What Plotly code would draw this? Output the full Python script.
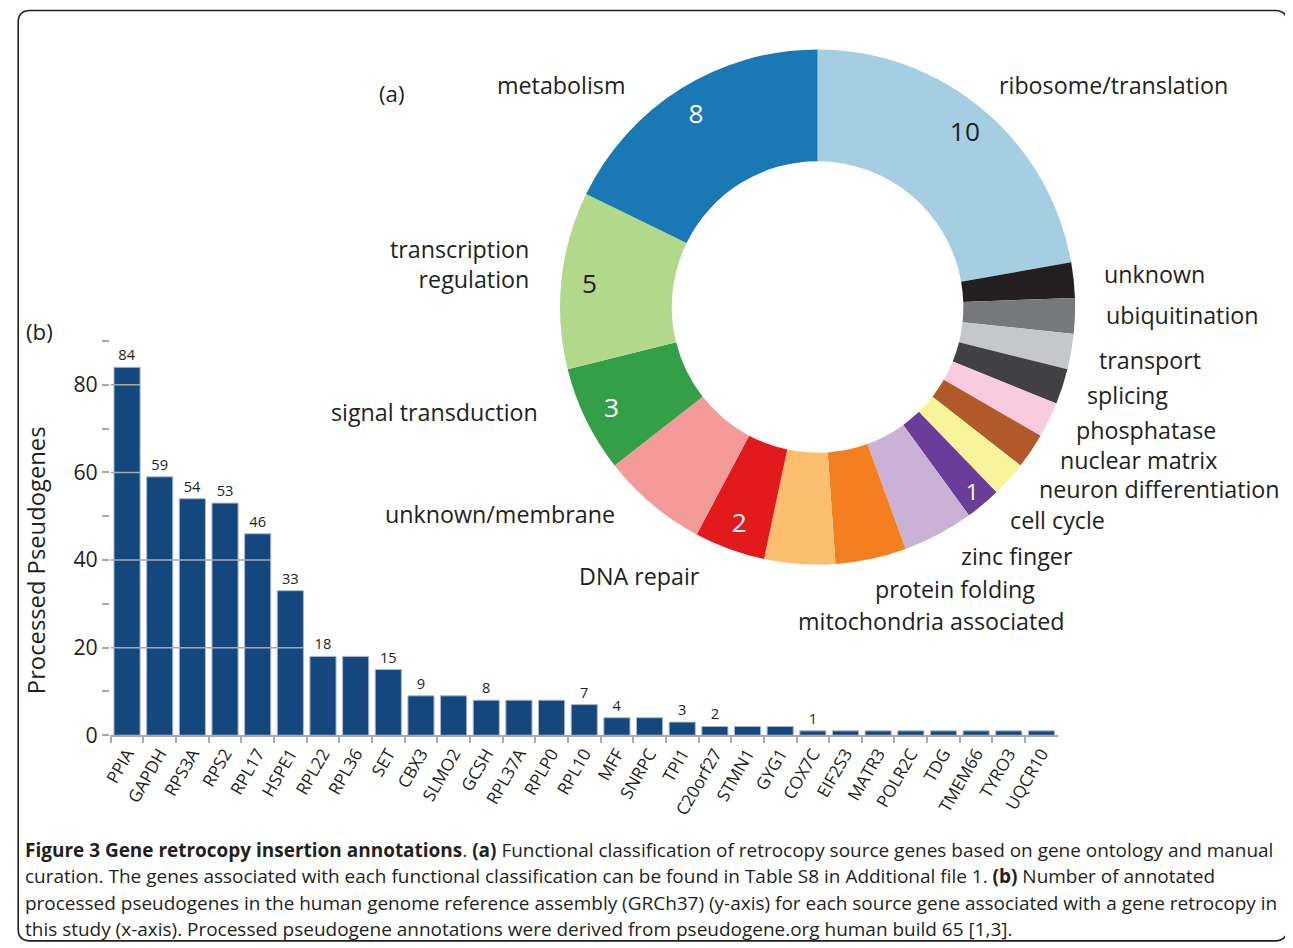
import plotly.graph_objects as go

W, H = 1293, 948
# measured placement of the figure in the photographed page: obs = A + S * fig_px
S = 0.988
AX, AY = 19.5, 7.5

# ---------------- data ----------------
genes = ["PPIA", "GAPDH", "RPS3A", "RPS2", "RPL17", "HSPE1", "RPL22", "RPL36", "SET",
         "CBX3", "SLMO2", "GCSH", "RPL37A", "RPLP0", "RPL10", "MFF", "SNRPC", "TPI1",
         "C20orf27", "STMN1", "GYG1", "COX7C", "EIF2S3", "MATR3", "POLR2C", "TDG",
         "TMEM66", "TYRO3", "UQCR10"]
pseudogenes = [84, 59, 54, 53, 46, 33, 18, 18, 15, 9, 9, 8, 8, 8, 7, 4, 4, 3, 2, 2, 2,
               1, 1, 1, 1, 1, 1, 1, 1]
y_ticks = [0, 20, 40, 60, 80]

categories = ["ribosome/translation", "unknown", "ubiquitination", "transport", "splicing",
              "phosphatase", "nuclear matrix", "neuron differentiation", "cell cycle",
              "zinc finger", "protein folding", "mitochondria associated", "DNA repair",
              "unknown/membrane", "signal transduction", "transcription regulation", "metabolism"]
gene_counts = [10, 1, 1, 1, 1, 1, 1, 1, 1, 2, 2, 2, 2, 3, 3, 5, 8]
count_labels = ["10", "", "", "", "", "", "", "", "1", "", "", "", "2", "", "3", "5", "8"]

caption_lines = [
    "<b>Figure 3 Gene retrocopy insertion annotations</b>. <b>(a)</b> Functional classification of retrocopy source genes based on gene ontology and manual",
    "curation. The genes associated with each functional classification can be found in Table S8 in Additional file 1. <b>(b)</b> Number of annotated",
    "processed pseudogenes in the human genome reference assembly (GRCh37) (y-axis) for each source gene associated with a gene retrocopy in",
    "this study (x-axis). Processed pseudogene annotations were derived from pseudogene.org human build 65 [1,3].",
]

# ---------------- styles ----------------
slice_colors = ["#a6cee3", "#231f20", "#77787b", "#c6c7c8", "#414042", "#f8cbdf", "#b15928",
                "#f7f49a", "#6a3d9a", "#cab2d6", "#f47f20", "#fdbf6f", "#e31a1c", "#f49a99",
                "#33a047", "#b2d98a", "#1a79b5"]
slice_text_colors = ["#231f20", "white", "white", "white", "white", "white", "white", "white",
                     "white", "white", "white", "white", "white", "white", "white", "#231f20", "white"]
# label placement (target pixel x, pixel y, anchor)
label_pos = {
    "ribosome/translation": (995, 85, "left"),
    "unknown": (1099, 274, "left"),
    "ubiquitination": (1101, 315, "left"),
    "transport": (1094, 360, "left"),
    "splicing": (1082, 395, "left"),
    "phosphatase": (1071, 430, "left"),
    "nuclear matrix": (1055, 460, "left"),
    "neuron differentiation": (1034, 489, "left"),
    "cell cycle": (1005, 520, "left"),
    "zinc finger": (957, 556, "left"),
    "protein folding": (871, 590, "left"),
    "mitochondria associated": (795, 622, "left"),
    "DNA repair": (701, 576, "right"),
    "unknown/membrane": (616, 514, "right"),
    "signal transduction": (540, 412, "right"),
    "transcription regulation": (531, 264, "right"),
    "metabolism": (626, 85, "right"),
}

FONT = "Open Sans, Noto Sans, DejaVu Sans, sans-serif"
TXT = "#231f20"
GRID = "#a7a9ac"
BAR = "#15477f"


def px(x):
    return ((x - AX) / S) / W


def py(y):
    return 1 - ((y - AY) / S) / H


def sz(v):
    return v / S


fig = go.Figure()

# ---------------- donut ----------------
cx, cy, R = 816, 307, 258
pie_domain = dict(x=[px(cx - R), px(cx + R)], y=[py(cy + R), py(cy - R)])
fig.add_trace(go.Pie(
    labels=categories, values=gene_counts, sort=False, direction="clockwise", rotation=0,
    hole=0.566, domain=pie_domain, textinfo="none", hoverinfo="label+value",
    marker=dict(colors=slice_colors, line=dict(width=0)), showlegend=False,
))
fig.add_trace(go.Pie(
    labels=categories, values=gene_counts, sort=False, direction="clockwise", rotation=0,
    hole=0.78, domain=pie_domain, text=count_labels, textinfo="text",
    textposition="inside", insidetextorientation="horizontal",
    textfont=dict(size=sz(26), color=slice_text_colors, family=FONT),
    marker=dict(colors=["rgba(0,0,0,0)"] * len(categories), line=dict(width=0)),
    hoverinfo="skip", showlegend=False,
))

annotations = []
for cat in categories:
    x, y, anchor = label_pos[cat]
    text = cat
    if cat == "transcription regulation":
        text = "transcription<br>regulation"
    annotations.append(dict(
        x=px(x), y=py(y), xref="paper", yref="paper", text=text, showarrow=False,
        xanchor=anchor, yanchor="middle", align=anchor,
        font=dict(size=sz(23), color=TXT, family=FONT),
    ))

# ---------------- bars ----------------
bar_text = [str(v) if i == 0 or v != pseudogenes[i - 1] else "" for i, v in enumerate(pseudogenes)]
BARGAP = 0.2
fig.add_trace(go.Bar(
    x=genes, y=pseudogenes, text=bar_text, textposition="outside", cliponaxis=False,
    textfont=dict(size=sz(14.5), color=TXT, family=FONT),
    marker=dict(color=BAR, line=dict(color="#a9b8cf", width=1)),
    showlegend=False, hoverinfo="x+y",
))

shapes = []
# gridlines drawn over bars, ending at last bar that exceeds the level
for g in y_ticks[1:]:
    idx = max(i for i, v in enumerate(pseudogenes) if v > g)
    shapes.append(dict(type="line", xref="x", yref="y", x0=-0.5, x1=idx + (1 - BARGAP) / 2,
                       y0=g, y1=g, line=dict(color=GRID, width=1.5), layer="above"))

# rounded outer frame
x0, x1 = max(px(10), 1.2 / W), px(1283)
y0, y1 = py(942), py(10)
rx, ry = 12 / W, 12 / H
path = (f"M {x0+rx},{y1} L {x1-rx},{y1} Q {x1},{y1} {x1},{y1-ry} "
        f"L {x1},{y0+ry} Q {x1},{y0} {x1-rx},{y0} L {x0+rx},{y0} "
        f"Q {x0},{y0} {x0},{y0+ry} L {x0},{y1-ry} Q {x0},{y1} {x0+rx},{y1} Z")
shapes.append(dict(type="path", xref="paper", yref="paper", path=path,
                   line=dict(color="#231f20", width=1.6)))

# panel letters and axis title
annotations.append(dict(x=px(393), y=py(93), xref="paper", yref="paper", text="(a)",
                        xanchor="center", yanchor="middle",
                        showarrow=False, font=dict(size=sz(22), color=TXT, family=FONT)))
annotations.append(dict(x=px(42), y=py(332), xref="paper", yref="paper", text="(b)",
                        xanchor="center", yanchor="middle",
                        showarrow=False, font=dict(size=sz(22), color=TXT, family=FONT)))
annotations.append(dict(x=px(38), y=py(561), xref="paper", yref="paper",
                        text="Processed Pseudogenes", textangle=-90, showarrow=False,
                        xanchor="center", yanchor="middle",
                        font=dict(size=sz(23.5), color=TXT, family=FONT)))

# caption
cap_y = [851, 877, 904, 930]
for line, yy in zip(caption_lines, cap_y):
    annotations.append(dict(x=px(25), y=py(yy), xref="paper", yref="paper", text=line,
                            showarrow=False, xanchor="left", yanchor="middle",
                            font=dict(size=sz(18.75), color=TXT, family=FONT)))

y_top_px = 341
y_range_top = 80 * (736 - y_top_px) / (736 - 385)

fig.update_layout(
    width=W, height=H, margin=dict(l=0, r=0, t=0, b=0),
    paper_bgcolor="white", plot_bgcolor="white",
    bargap=BARGAP, showlegend=False,
    font=dict(family=FONT, color=TXT),
    xaxis=dict(domain=[px(112), px(1055)], showline=True, linecolor=GRID, linewidth=1.5,
               ticks="outside", tickson="boundaries", ticklen=6, tickcolor=GRID, tickwidth=1.5,
               tickangle=-60, tickfont=dict(size=sz(17), color=TXT, family=FONT),
               showgrid=False, zeroline=False, fixedrange=True),
    yaxis=dict(domain=[py(736), py(y_top_px)], range=[0, y_range_top], tickvals=y_ticks,
               showgrid=False, zeroline=False, showline=False,
               ticks="outside", ticklen=7, tickcolor=GRID, tickwidth=1.5,
               minor=dict(dtick=10, tick0=0, ticks="outside", ticklen=7, tickcolor=GRID,
                          tickwidth=1.5, showgrid=False),
               tickfont=dict(size=sz(21), color=TXT, family=FONT), fixedrange=True),
    shapes=shapes, annotations=annotations,
)

fig.write_html("out.html")
